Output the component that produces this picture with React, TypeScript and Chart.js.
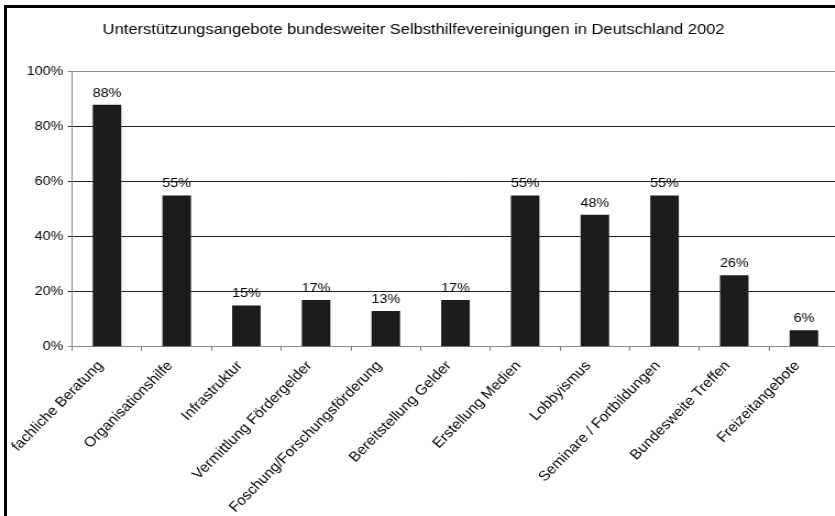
import React, { useEffect, useRef } from "react";
import { Chart, registerables } from "chart.js";

Chart.register(...registerables);

const TITLE = "Unterstützungsangebote bundesweiter Selbsthilfevereinigungen in Deutschland 2002";
const categories = [
  "fachliche Beratung",
  "Organisationshilfe",
  "Infrastruktur",
  "Vermittlung Fördergelder",
  "Foschung/Forschungsförderung",
  "Bereitstellung Gelder",
  "Erstellung Medien",
  "Lobbyismus",
  "Seminare / Fortbildungen",
  "Bundesweite Treffen",
  "Freizeitangebote",
];
const values = [88, 55, 15, 17, 13, 17, 55, 48, 55, 26, 6];
const yTicks = [0, 20, 40, 60, 80, 100];

const FONT = '"Liberation Sans", Arial, Helvetica, sans-serif';
const SX = 1.1; // horizontal stretch of the reference
const W = 764;
const H = 516;
// internal angle so that the stretched labels appear at 45 degrees
const ROT = (Math.atan(SX) * 180) / Math.PI;

const titlePlugin = {
  id: "customTitle",
  afterDraw(chart: any) {
    const ctx = chart.ctx;
    ctx.save();
    ctx.font = `15px ${FONT}`;
    ctx.fillStyle = "#000";
    ctx.textAlign = "center";
    ctx.textBaseline = "alphabetic";
    ctx.fillText(TITLE, 376, 34);
    ctx.restore();
  },
};

const dataLabelPlugin = {
  id: "dataLabels",
  afterDatasetsDraw(chart: any) {
    const ctx = chart.ctx;
    const meta = chart.getDatasetMeta(0);
    ctx.save();
    ctx.font = `13px ${FONT}`;
    ctx.fillStyle = "#000";
    ctx.textAlign = "center";
    ctx.textBaseline = "alphabetic";
    meta.data.forEach((bar: any, i: number) => {
      ctx.fillText(values[i] + "%", bar.x, bar.y - 8);
    });
    ctx.restore();
  },
};

export default function App() {
  const ref = useRef<HTMLCanvasElement | null>(null);
  useEffect(() => {
    if (!ref.current) return;
    const chart = new Chart(ref.current, {
      type: "bar",
      data: {
        labels: categories,
        datasets: [
          {
            data: values,
            backgroundColor: "#1c1c1c",
            borderWidth: 0,
            barPercentage: 0.41,
            categoryPercentage: 1,
          },
        ],
      },
      options: {
        animation: false,
        responsive: false,
        devicePixelRatio: 1,
        layout: { padding: { left: 0, right: 1.5, top: 71.7, bottom: 0 } },
        plugins: {
          legend: { display: false },
          tooltip: { enabled: false },
          title: { display: false },
        },
        scales: {
          x: {
            afterFit(scale: any) {
              scale.height = H - 346.7;
            },
            border: { display: true, color: "#888", width: 1 },
            grid: {
              display: true,
              drawOnChartArea: false,
              drawTicks: true,
              tickLength: 4,
              color: "#777",
              offset: true,
            },
            ticks: {
              color: "#000",
              font: { family: FONT, size: 14 },
              minRotation: ROT,
              maxRotation: ROT,
              autoSkip: false,
              padding: 7,
              labelOffset: -6,
            },
          },
          y: {
            min: 0,
            max: 100,
            afterFit(scale: any) {
              scale.width = 65.6;
            },
            afterBuildTicks(scale: any) {
              scale.ticks = yTicks.map((v) => ({ value: v }));
            },
            border: { display: true, color: "#888", width: 1 },
            grid: {
              drawTicks: true,
              tickLength: 4,
              color: (c: any) =>
                c.tick && (c.tick.value === 100 || c.tick.value === 0) ? "#8a8a8a" : "#222",
              lineWidth: 1,
            },
            ticks: {
              color: "#000",
              font: { family: FONT, size: 13 },
              padding: 4,
              callback: (v: any) => v + "%",
            },
          },
        },
      },
      plugins: [dataLabelPlugin, titlePlugin],
    });
    return () => chart.destroy();
  }, []);

  return (
    <div
      style={{
        position: "absolute",
        left: 0,
        top: 0,
        width: 835,
        height: 516,
        overflow: "hidden",
        background: "#fff",
      }}
    >
      <canvas
        ref={ref}
        width={W}
        height={H}
        style={{
          position: "absolute",
          left: 0,
          top: 0,
          transform: `scaleX(${SX})`,
          transformOrigin: "0 0",
        }}
      />
      <div
        style={{
          position: "absolute",
          left: 4,
          top: 5,
          width: 900,
          height: 600,
          borderLeft: "3px solid #000",
          borderTop: "3px solid #000",
          pointerEvents: "none",
        }}
      />
    </div>
  );
}
